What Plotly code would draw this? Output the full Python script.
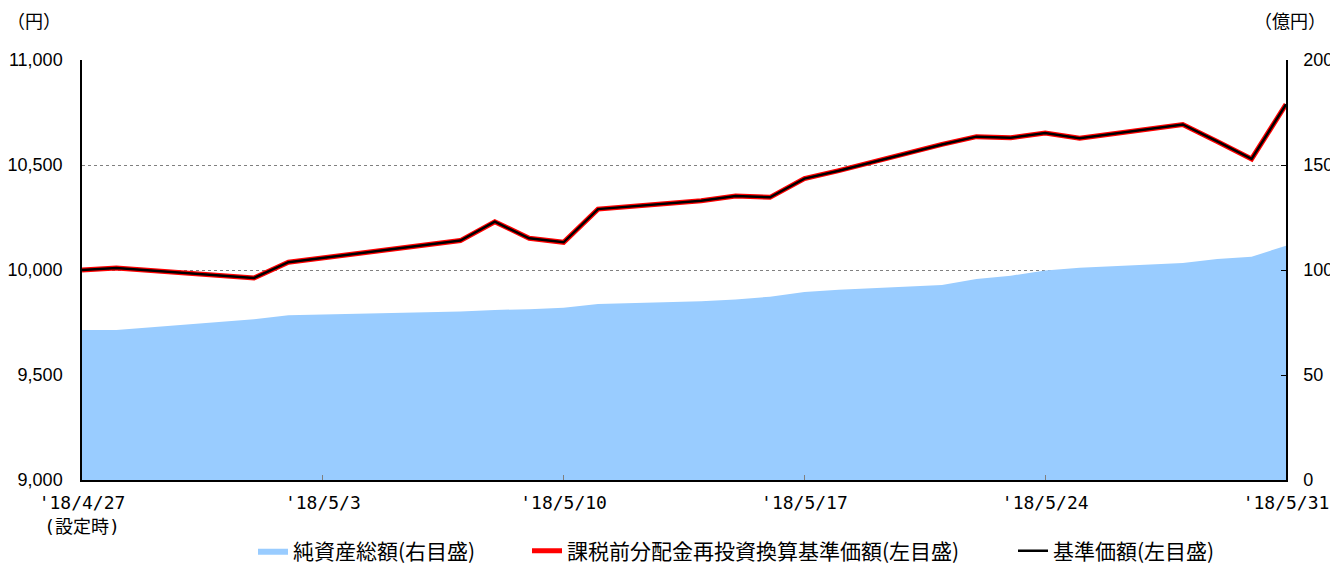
import plotly.graph_objects as go

dates = ["2018-04-26", "2018-04-27", "2018-05-01", "2018-05-02", "2018-05-07",
         "2018-05-08", "2018-05-09", "2018-05-10", "2018-05-11", "2018-05-14",
         "2018-05-15", "2018-05-16", "2018-05-17", "2018-05-18", "2018-05-21",
         "2018-05-22", "2018-05-23", "2018-05-24", "2018-05-25", "2018-05-28",
         "2018-05-29", "2018-05-30", "2018-05-31"]
nav = [10000, 10010, 9962, 10037, 10140, 10230, 10151, 10132, 10290, 10330,
       10352, 10346, 10435, 10473, 10598, 10635, 10630, 10652, 10627, 10693,
       10612, 10529, 10789]
nav_reinvested = [10000, 10010, 9962, 10037, 10140, 10230, 10151, 10132, 10290, 10330,
                  10352, 10346, 10435, 10473, 10598, 10635, 10630, 10652, 10627, 10693,
                  10612, 10529, 10789]
net_assets = [71.4, 71.4, 76.5, 78.4, 80.2, 81.0, 81.3, 82.0, 83.8, 85.1,
              86.0, 87.3, 89.5, 90.6, 92.9, 95.7, 97.3, 99.8, 101.1, 103.3,
              105.2, 106.3, 111.6]

tick_dates = ["2018-04-26", "2018-05-03", "2018-05-10", "2018-05-17", "2018-05-24", "2018-05-31"]
tick_text = ["'18/4/27<br>(設定時)", "'18/5/3", "'18/5/10", "'18/5/17", "'18/5/24", "'18/5/31"]
left_ticks = [9000, 9500, 10000, 10500, 11000]
right_ticks = [0, 50, 100, 150, 200]

names = ["純資産総額(右目盛)", "課税前分配金再投資換算基準価額(左目盛)", "基準価額(左目盛)"]

CJK = "Noto Sans CJK JP"
NUM = "Liberation Sans, Arial, " + CJK
MONO = "DejaVu Sans Mono, " + CJK

# page offset of the plot div (body margin)
OFF = 8
W, H = 1338 - OFF, 566 - OFF
# plot area in page pixels
PL, PR, PT, PB = 82, 1286, 60, 480
PW, PH = PR - PL, PB - PT


def px_x(p):
    return (p - PL) / PW


def px_y(p):
    return (PB - p) / PH


fig = go.Figure()
fig.add_trace(go.Scatter(x=dates, y=net_assets, name=names[0], yaxis="y2",
                         mode="lines", line=dict(width=0, color="#99CCFF"),
                         fill="tozeroy", fillcolor="#99CCFF", legend="legend"))
fig.add_trace(go.Scatter(x=dates, y=nav_reinvested, name=names[1], yaxis="y",
                         mode="lines", line=dict(color="#FF0000", width=5), legend="legend2"))
fig.add_trace(go.Scatter(x=dates, y=nav, name=names[2], yaxis="y",
                         mode="lines", line=dict(color="#000000", width=2.5), legend="legend3"))

leg_common = dict(orientation="h", xanchor="left", yanchor="middle", y=px_y(551),
                  font=dict(family=CJK, size=21), bgcolor="rgba(0,0,0,0)", itemwidth=30)

fig.update_layout(
    width=W, height=H,
    margin=dict(l=PL - OFF, r=W - (PR - OFF), t=PT - OFF, b=H - (PB - OFF), autoexpand=False),
    paper_bgcolor="white", plot_bgcolor="white",
    font=dict(family=CJK, size=18, color="#000000"),
    showlegend=True,
    legend=dict(x=px_x(253), **leg_common),
    legend2=dict(x=px_x(527), **leg_common),
    legend3=dict(x=px_x(1013), **leg_common),
    xaxis=dict(type="date", range=["2018-04-26", "2018-05-31"],
               tickvals=tick_dates, ticktext=tick_text,
               tickfont=dict(family=MONO, size=18),
               ticks="inside", ticklen=5, tickcolor="#808080", tickwidth=1,
               showline=True, linecolor="#000000", linewidth=1.5,
               showgrid=False, zeroline=False, ticklabelstandoff=6, automargin=False),
    yaxis=dict(range=[9000, 11000], tickvals=left_ticks, tickformat=",d",
               tickfont=dict(family=NUM, size=18),
               ticks="", showline=True, linecolor="#000000", linewidth=1.5,
               showgrid=True, gridcolor="#808080", griddash="dot", gridwidth=1,
               zeroline=False, ticklabelstandoff=14, automargin=False),
    yaxis2=dict(range=[0, 200], tickvals=right_ticks, overlaying="y", side="right",
                tickfont=dict(family=NUM, size=18),
                ticks="inside", ticklen=5, tickcolor="#000000",
                showline=True, linecolor="#000000", linewidth=1.5,
                showgrid=False, zeroline=False, ticklabelstandoff=12, automargin=False),
    annotations=[
        dict(text="（円）", xref="paper", yref="paper", x=px_x(34), y=px_y(20),
             showarrow=False, xanchor="center", yanchor="middle", font=dict(family=CJK, size=18)),
        dict(text="（億円）", xref="paper", yref="paper", x=px_x(1290), y=px_y(20),
             showarrow=False, xanchor="center", yanchor="middle", font=dict(family=CJK, size=18)),
    ],
)

fig.write_html("out.html")
